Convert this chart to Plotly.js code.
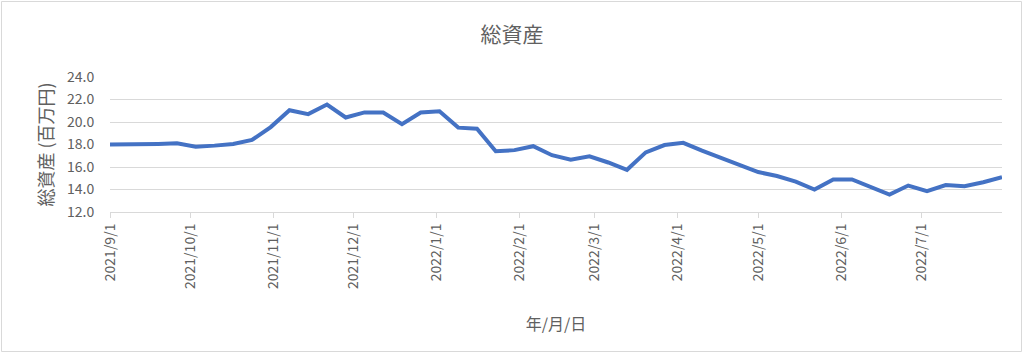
<!DOCTYPE html>
<html>
<head>
<meta charset="utf-8">
<script src="https://cdn.plot.ly/plotly-3.0.1.min.js"></script>
<style>
html,body{margin:0;padding:0;background:#fff;}
#chart{width:1024px;height:360px;}
</style>
</head>
<body>
<div id="chart"></div>
<script>
// Weekly observation dates (first point is the start date, then Sundays)
const dates = [
  '2021-09-01','2021-09-05','2021-09-12','2021-09-19','2021-09-26',
  '2021-10-03','2021-10-10','2021-10-17','2021-10-24','2021-10-31',
  '2021-11-07','2021-11-14','2021-11-21','2021-11-28',
  '2021-12-05','2021-12-12','2021-12-19','2021-12-26',
  '2022-01-02','2022-01-09','2022-01-16','2022-01-23','2022-01-30',
  '2022-02-06','2022-02-13','2022-02-20','2022-02-27',
  '2022-03-06','2022-03-13','2022-03-20','2022-03-27',
  '2022-04-03','2022-04-10','2022-04-17','2022-04-24',
  '2022-05-01','2022-05-08','2022-05-15','2022-05-22','2022-05-29',
  '2022-06-05','2022-06-12','2022-06-19','2022-06-26',
  '2022-07-03','2022-07-10','2022-07-17','2022-07-24','2022-07-31'
];
// Total assets (million yen)
const totalAssets = [
  18.0, 18.0, 18.05, 18.05, 18.1,
  17.8, 17.9, 18.05, 18.4, 19.55,
  21.05, 20.7, 21.55, 20.4,
  20.85, 20.85, 19.8, 20.85,
  20.95, 19.5, 19.4, 17.4, 17.5,
  17.85, 17.05, 16.65, 16.95,
  16.4, 15.75, 17.3, 17.95,
  18.15, 17.45, 16.8, 16.15,
  15.55, 15.2, 14.7, 14.0, 14.9,
  14.9, 14.2, 13.55, 14.35,
  13.85, 14.4, 14.3, 14.65, 15.1
];
const xTickVals = ['2021-09-01','2021-10-01','2021-11-01','2021-12-01','2022-01-01',
  '2022-02-01','2022-03-01','2022-04-01','2022-05-01','2022-06-01','2022-07-01'];
const xTickText = ['2021/9/1','2021/10/1','2021/11/1','2021/12/1','2022/1/1',
  '2022/2/1','2022/3/1','2022/4/1','2022/5/1','2022/6/1','2022/7/1'];
const yTickVals = [12, 14, 16, 18, 20, 22, 24];
const yTickText = ['12.0','14.0','16.0','18.0','20.0','22.0','24.0'];

const FONT = '"Noto Sans CJK JP", "Noto Sans", sans-serif';
const GRAY = '#606060';

const trace = {
  x: dates, y: totalAssets, type: 'scatter', mode: 'lines',
  line: {color: '#4472C4', width: 4, shape: 'linear'},
  hoverinfo: 'x+y'
};

// plot area: 110..1002 px horizontally, 77..212 px vertically
const L = 110, R = 22, T = 77, B = 148;
const pw = 1024 - L - R, ph = 360 - T - B;
const px = v => (v - L) / pw;
const py = v => (360 - B - v) / ph;

const layout = {
  width: 1024, height: 360,
  margin: {l: L, r: R, t: T, b: B, pad: 0},
  paper_bgcolor: '#ffffff', plot_bgcolor: '#ffffff',
  font: {family: FONT, color: GRAY, size: 13},
  showlegend: false,
  title: {text: '総資産', font: {family: FONT, size: 21, color: GRAY},
          xref: 'container', x: 0.5, xanchor: 'center',
          yref: 'container', y: 1 - 35/360, yanchor: 'middle'},
  xaxis: {
    type: 'date', range: ['2021-09-01', '2022-07-31'],
    tickmode: 'array', tickvals: xTickVals, ticktext: xTickText,
    tickangle: -90, ticks: 'outside', ticklen: 5, tickcolor: '#d9d9d9', tickwidth: 1,
    showgrid: false, showline: true, linecolor: '#d9d9d9', linewidth: 1,
    zeroline: false,
    tickfont: {family: FONT, size: 14, color: GRAY},
    title: {text: '年/月/日', font: {family: FONT, size: 16, color: GRAY}, standoff: 30}
  },
  yaxis: {
    range: [12, 24], tickmode: 'array', tickvals: yTickVals, ticktext: yTickText,
    showgrid: true, gridcolor: '#d9d9d9', gridwidth: 1,
    showline: false, zeroline: false,
    ticks: 'outside', ticklen: 12, tickcolor: 'rgba(0,0,0,0)',
    tickfont: {family: FONT, size: 14, color: GRAY},
    title: {text: '総資産 (百万円)', font: {family: FONT, size: 18, color: GRAY}, standoff: 8}
  },
  shapes: [{
    type: 'rect', xref: 'paper', yref: 'paper',
    x0: px(1.5), x1: px(1021.5), y0: py(351.5), y1: py(1.5),
    line: {color: '#d9d9d9', width: 1}, fillcolor: 'rgba(0,0,0,0)', layer: 'below'
  }]
};

Plotly.newPlot('chart', [trace], layout, {displayModeBar: false, staticPlot: true});
</script>
</body>
</html>
